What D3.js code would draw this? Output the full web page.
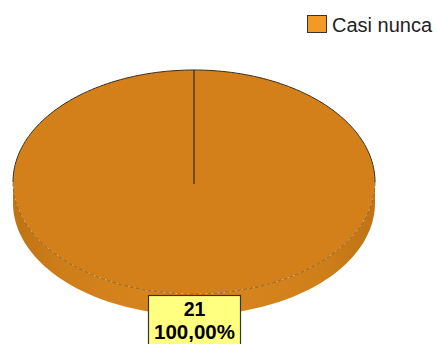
<!DOCTYPE html>
<html><head><meta charset="utf-8">
<script src="https://cdn.jsdelivr.net/npm/d3@7"></script>
<style>html,body{margin:0;padding:0;background:#fff;}svg{display:block;}</style>
</head><body>
<svg id="c" width="437" height="344"></svg>
<script>
const categories = ["Casi nunca"];
const values = [21];
const percentLabels = ["100,00%"];
const colors = ["#D4801A"];
const legendColors = ["#F39A26"];

(function () {
const svg = d3.select("#c");
const cx = 194, cy = 182, rx = 181, ry = 112, depth = 21;
const k = ry / rx;

const pie = d3.pie().sort(null).value(d => d)(values);
const arc = d3.arc().innerRadius(0).outerRadius(rx);

const defs = svg.append("defs");
const grad = defs.append("linearGradient").attr("id", "side").attr("x1", "0").attr("x2", "1").attr("y1", "0").attr("y2", "0");
grad.append("stop").attr("offset", "0%").attr("stop-color", "#BF7313");
grad.append("stop").attr("offset", "15%").attr("stop-color", "#CF7F1A");
grad.append("stop").attr("offset", "50%").attr("stop-color", "#DA861F");
grad.append("stop").attr("offset", "85%").attr("stop-color", "#CF7F1A");
grad.append("stop").attr("offset", "100%").attr("stop-color", "#BF7313");

const ex = a => cx + rx * Math.sin(a);
const ey = (a, off) => cy - ry * Math.cos(a) + off;
const steps = 120;
let pts = [];
for (let i = 0; i <= steps; i++) { const a = Math.PI / 2 + Math.PI * i / steps; pts.push([ex(a), ey(a, 0)]); }
for (let i = steps; i >= 0; i--) { const a = Math.PI / 2 + Math.PI * i / steps; pts.push([ex(a), ey(a, depth)]); }
svg.append("path").attr("d", d3.line()(pts) + "Z").attr("fill", "url(#side)").attr("stroke", "none");

const face = svg.append("g").attr("transform", `translate(${cx},${cy}) scale(1,${k})`);
face.selectAll("path.slice").data(pie).join("path").attr("class", "slice")
  .attr("d", arc).attr("fill", (d, i) => colors[i]).attr("stroke", "none");

let upper = [];
for (let i = 0; i <= steps; i++) { const a = -Math.PI / 2 + Math.PI * i / steps; upper.push([ex(a), ey(a, 0)]); }
svg.append("path").attr("d", d3.line()(upper)).attr("fill", "none").attr("stroke", "#3a2a10").attr("stroke-width", 1);
let lower = [];
for (let i = 0; i <= steps; i++) { const a = Math.PI / 2 + Math.PI * i / steps; lower.push([ex(a), ey(a, 0)]); }
svg.append("path").attr("d", d3.line()(lower)).attr("fill", "none").attr("stroke", "#8a5510").attr("stroke-width", 0.8).attr("stroke-dasharray", "4,2");

pie.forEach(d => {
  const a = d.startAngle;
  svg.append("line").attr("x1", cx).attr("y1", cy + 2).attr("x2", ex(a)).attr("y2", ey(a, 0))
    .attr("stroke", "#3a2a10").attr("stroke-width", 1.2);
});

pie.forEach((d, i) => {
  const mid = (d.startAngle + d.endAngle) / 2;
  const lx = ex(mid), ly = ey(mid, 0);
  const bw = 92, bh = 52;
  const g = svg.append("g").attr("transform", `translate(${lx - bw / 2},${ly + 1})`);
  g.append("rect").attr("x", 0.5).attr("y", 0.5).attr("width", bw).attr("height", bh)
    .attr("fill", "#FFFF80").attr("stroke", "#333").attr("stroke-width", 1.2);
  g.append("text").attr("x", bw / 2 + 0.5).attr("y", 21).attr("text-anchor", "middle")
    .attr("font-family", "Liberation Sans, Arial, sans-serif").attr("font-weight", "bold").attr("font-size", 19.5)
    .attr("fill", "#000").text(values[i]);
  g.append("text").attr("x", bw / 2 + 0.5).attr("y", 43.5).attr("text-anchor", "middle")
    .attr("font-family", "Liberation Sans, Arial, sans-serif").attr("font-weight", "bold").attr("font-size", 20.5)
    .attr("fill", "#000").text(percentLabels[i]);
});

const leg = svg.append("g").attr("transform", "translate(307,15)");
categories.forEach((c, i) => {
  const r = leg.append("g").attr("transform", `translate(0,${i * 22})`);
  r.append("rect").attr("x", 0.5).attr("y", 0.5).attr("width", 19).attr("height", 17)
    .attr("fill", legendColors[i]).attr("stroke", "#333").attr("stroke-width", 1);
  r.append("text").attr("x", 25).attr("y", 17).attr("font-family", "Liberation Sans, Arial, sans-serif")
    .attr("font-size", 20).attr("fill", "#222").text(c);
});
})();
</script>
</body></html>
